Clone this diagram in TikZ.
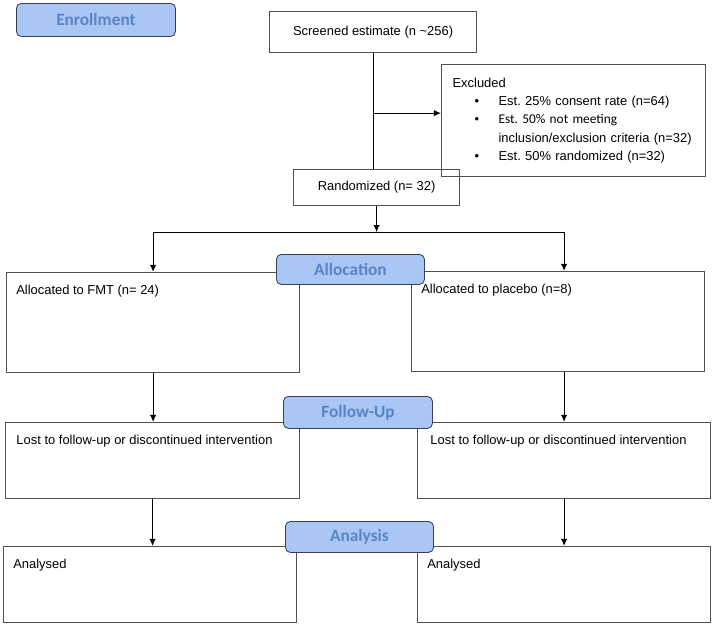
\documentclass[tikz,border=0pt]{standalone}
\usepackage{fontspec}
\setmainfont{Liberation Sans}
\newfontfamily\calibrifont{Carlito}
\usetikzlibrary{arrows.meta}
\usetikzlibrary{positioning}
\tikzset{>={Latex[length=5pt,width=4.5pt]}}
\definecolor{phasefill}{RGB}{169,198,245}
\definecolor{phasetext}{RGB}{88,132,196}
\definecolor{phaseline}{RGB}{55,65,85}
\definecolor{boxline}{RGB}{80,80,80}
\frenchspacing

\begin{document}
\begin{tikzpicture}[x=0.025cm, y=-0.025cm]
            \tikzset{flow box/.style={draw=boxline, line width=0.8pt, rectangle, anchor=north west, inner sep=0pt, font={\fontsize{9.2}{13}\selectfont}}};
            \tikzset{phase label/.style={draw=phaseline, line width=0.6pt, fill=phasefill, rounded corners=3.5pt, anchor=north west, inner sep=0pt, text=phasetext, font={\calibrifont\bfseries\fontsize{12.3}{14}\selectfont}}};
            \tikzset{box text/.style={anchor=north west, inner sep=0pt, xshift=0.25cm, yshift=-0.33cm, font={\fontsize{9.2}{13}\selectfont}}};
            \tikzset{arrow/.style={->, line width=0.8pt}};
            \useasboundingbox (0,0) rectangle (713,626);
            % Enrollment
            \node[flow box, minimum width=5.175cm, minimum height=1.025cm] (screened) at (269,11) {Screened estimate (n \textasciitilde256)};
            \node[flow box, minimum width=6.6cm, minimum height=2.8cm, inner xsep=0.275cm, text width=6.05cm, align=left] (excluded) at (441,64) {%
                \mbox{Excluded}\\
                \mbox{\hspace*{0.55cm}\makebox[0.6cm][l]{\textbullet}Est. 25\% consent rate (n=64)}\\
                \mbox{\hspace*{0.55cm}\makebox[0.6cm][l]{\textbullet}{\calibrifont\fontsize{9.5}{13}\selectfont Est. 50\% not meeting}}\\
                \mbox{\hspace*{1.15cm}inclusion/exclusion criteria (n=32)}\\
                \mbox{\hspace*{0.55cm}\makebox[0.6cm][l]{\textbullet}Est. 50\% randomized (n=32)}};
            \node[flow box, minimum width=4.15cm, minimum height=0.9cm] (randomized) at (293,169) {Randomized (n= 32)};
            % Allocation
            \node[flow box, minimum width=7.325cm, minimum height=2.5cm, label={[box text]north west:Allocated to FMT (n= 24)}] (allocFMT) at (6,272) {};
            \node[flow box, minimum width=7.325cm, minimum height=2.5cm, label={[box text]north west:Allocated to placebo (n=8)}] (allocPlacebo) at (411,271) {};
            % Follow-Up
            \node[flow box, minimum width=7.35cm, minimum height=1.9cm, label={[box text, xshift=0.03cm]north west:Lost to follow-up or discontinued intervention}] (lostFMT) at (5,422) {};
            \node[flow box, minimum width=7.325cm, minimum height=1.9cm, label={[box text, xshift=0.08cm]north west:Lost to follow-up or discontinued intervention}] (lostPlacebo) at (417,422) {};
            % Analysis
            \node[flow box, minimum width=7.325cm, minimum height=1.9cm, label={[box text]north west:Analysed}] (analysedFMT) at (3,546) {};
            \node[flow box, minimum width=7.325cm, minimum height=1.9cm, label={[box text]north west:Analysed}] (analysedPlacebo) at (417,546) {};
            % Connectors
            \path (screened.south) ++(0,60) coordinate (split);
            \path (randomized.south) ++(0,26) coordinate (fork);
            \draw[line width=0.8pt] (screened.south) -- (screened.south |- randomized.north);
            \draw[arrow] (split) -- (split -| excluded.west);
            \draw[arrow] (randomized.south) -- (fork);
            \draw[line width=0.8pt] (fork -| allocFMT.north) -- (fork -| lostPlacebo.north);
            \draw[arrow] (fork -| allocFMT.north) -- (allocFMT.north);
            \draw[arrow] (fork -| lostPlacebo.north) -- (allocPlacebo.north -| lostPlacebo.north);
            \draw[arrow] (allocFMT.south) -- (allocFMT.south |- lostFMT.north);
            \draw[arrow] (allocPlacebo.south -| lostPlacebo.north) -- (lostPlacebo.north);
            \draw[arrow] (lostFMT.south) -- (lostFMT.south |- analysedFMT.north);
            \draw[arrow] (lostPlacebo.south) -- (lostPlacebo.south |- analysedPlacebo.north);
            % Phase labels
            \node[phase label, minimum width=3.975cm, minimum height=0.825cm] (enrollment) at (16,3) {Enrollment};
            \node[phase label, minimum width=3.7cm, minimum height=0.75cm] (allocation) at (276,254) {Allocation};
            \node[phase label, minimum width=3.725cm, minimum height=0.8cm] (followup) at (283,396) {Follow-Up};
            \node[phase label, minimum width=3.7cm, minimum height=0.775cm] (analysis) at (285,521) {Analysis};
\end{tikzpicture}
\end{document}
